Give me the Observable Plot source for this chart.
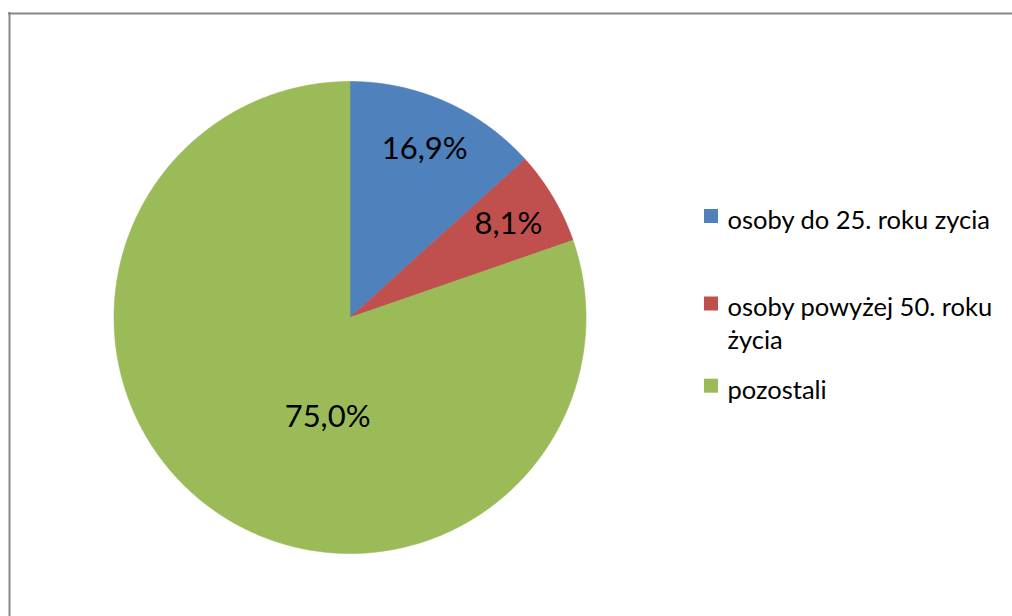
<!DOCTYPE html>
<html>
<head>
<meta charset="utf-8">
<script src="https://cdn.jsdelivr.net/npm/d3@7"></script>
<script src="https://cdn.jsdelivr.net/npm/@observablehq/plot@0.6"></script>
<style>
  html, body { margin: 0; padding: 0; background: #fff; }
  #chart svg { display: block; }
</style>
</head>
<body>
<div id="chart"></div>
<script>
// ---- data ----
const categories = ["osoby do 25. roku zycia", "osoby powyżej 50. roku\nżycia", "pozostali"];
const shares = [13.3, 6.4, 80.3];            // slice sizes as drawn (%)
const labels = ["16,9%", "8,1%", "75,0%"];   // data labels as printed
const colors = ["#4F81BD", "#C0504D", "#9BBB59"];

// ---- layout ----
const W = 1012, H = 616;
const cx = 349.5, cy = 317, R = 236;
const font = "Lato, 'Open Sans', sans-serif";
const legendFont = 25.5;

const arcs = d3.pie().sort(null).value(d => d)(shares);
const pt = (a, r) => [cx + r * Math.sin(a), cy - r * Math.cos(a)];

const slices = arcs.map((a, i) => {
  const n = Math.max(8, Math.ceil((a.endAngle - a.startAngle) * 120));
  const pts = [{x: cx, y: cy}];
  for (let k = 0; k <= n; k++) {
    const t = a.startAngle + (a.endAngle - a.startAngle) * k / n;
    const [x, y] = pt(t, R);
    pts.push({x, y});
  }
  pts.push({x: cx, y: cy});
  return {pts, color: colors[i]};
});

// label placement: small slices at mid-angle, large slice nearer the centre
const labelData = arcs.map((a, i) => {
  const mid = (a.startAngle + a.endAngle) / 2;
  const big = (a.endAngle - a.startAngle) > Math.PI;
  const ang = big ? mid - 0.397 : mid;
  const rad = big ? 0.432 * R : 0.78 * R;
  const [x, y] = pt(ang, rad);
  return {x, y, text: labels[i]};
});

const legendY = [216, 303.5, 385.7];
const legendData = categories.map((c, i) => ({name: c, color: colors[i], y: legendY[i]}));

const marks = [
  Plot.ruleX([9], {y1: 12, y2: H, stroke: "#878787", strokeWidth: 2}),
  Plot.ruleY([13], {x1: 8, x2: W, stroke: "#878787", strokeWidth: 2}),
  ...slices.map(s => Plot.line(s.pts, {x: "x", y: "y", fill: s.color, stroke: s.color, strokeWidth: 0.6, curve: "linear"})),
  Plot.text(labelData, {x: "x", y: "y", text: "text", fontSize: 31, fill: "#000", fontFamily: font}),
  Plot.rect(legendData, {x1: 704, x2: 718, y1: d => d.y - 7, y2: d => d.y + 7, fill: "color"}),
  Plot.text(legendData, {x: 727, y: d => d.y + 7 - 0.71 * legendFont, text: "name", textAnchor: "start", lineAnchor: "top",
    lineHeight: 33 / legendFont, fontSize: legendFont, fill: "#000", fontFamily: font})
];

const chart = Plot.plot({
  width: W, height: H, margin: 0,
  x: {domain: [0, W], range: [0, W], axis: null},
  y: {domain: [0, H], range: [0, H], axis: null},
  color: {type: "identity"},
  style: {background: "#fff"},
  marks
});
document.getElementById("chart").appendChild(chart);
</script>
</body>
</html>
